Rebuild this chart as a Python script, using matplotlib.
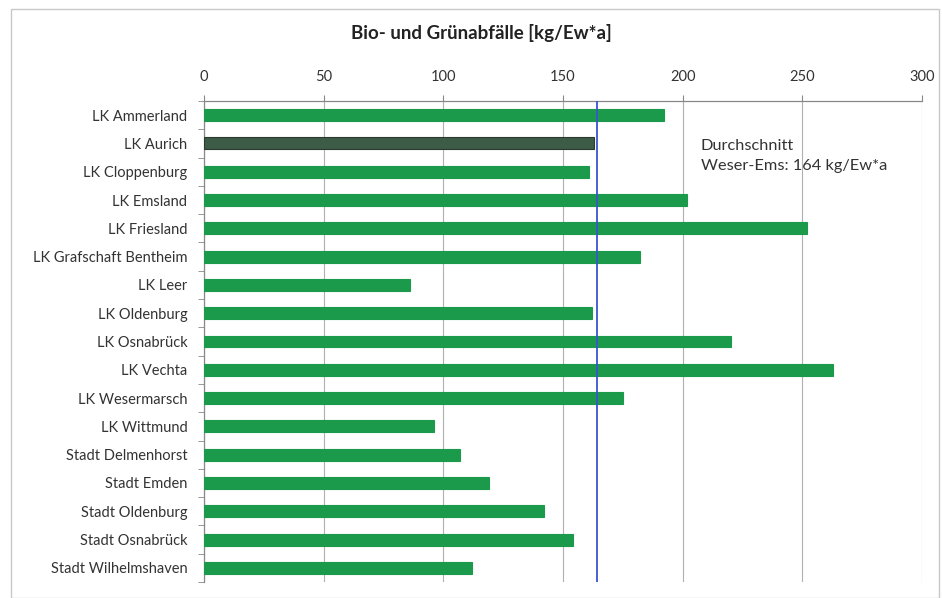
import matplotlib
matplotlib.use("Agg")
import matplotlib.pyplot as plt
from matplotlib.patches import Rectangle
import numpy as np

plt.rcParams['font.family'] = ['Lato', 'DejaVu Sans']

regions = [
    "LK Ammerland", "LK Aurich", "LK Cloppenburg", "LK Emsland", "LK Friesland",
    "LK Grafschaft Bentheim", "LK Leer", "LK Oldenburg", "LK Osnabrück", "LK Vechta",
    "LK Wesermarsch", "LK Wittmund", "Stadt Delmenhorst", "Stadt Emden",
    "Stadt Oldenburg", "Stadt Osnabrück", "Stadt Wilhelmshaven",
]
values = [192, 163, 161, 202, 252, 182, 86, 162, 220, 263, 175, 96, 107, 119, 142, 154, 112]
highlight = "LK Aurich"
average = 164
x_ticks = [0, 50, 100, 150, 200, 250, 300]

fig = plt.figure(figsize=(9.42, 5.98), dpi=100)
ax = fig.add_axes([204 / 942, 1 - 582 / 598, (922 - 204) / 942, (582 - 101) / 598])

# chart frame
fig.patches.append(Rectangle((11 / 942, 0.0), 928 / 942, 1 - 9 / 598,
                             transform=fig.transFigure, fill=False,
                             edgecolor="#c8c8c8", linewidth=1.0))

y = np.arange(len(regions))
colors = ["#3d5c47" if r == highlight else "#1b9a4b" for r in regions]
edges = ["#2a3a2e" if r == highlight else "#1b9a4b" for r in regions]
ax.barh(y, values, height=0.42, color=colors, edgecolor=edges, linewidth=0.8, zorder=3)

ax.axvline(average, color="#3a55d0", linewidth=1.3, zorder=4)
ax.text(207.5, 1.45, "Durchschnitt\nWeser-Ems: %d kg/Ew*a" % average,
        fontsize=11.8, color="#333333", va="center", ha="left", linespacing=1.5, zorder=5)

ax.set_xlim(0, 300)
ax.set_ylim(len(regions) - 0.5, -0.5)
ax.set_xticks(x_ticks)
ax.xaxis.tick_top()
ax.tick_params(axis="x", length=4, color="#888888", labelsize=10.5, labelcolor="#333333", pad=8)
ax.grid(axis="x", color="#b0b0b0", linewidth=0.8, zorder=0)

ax.set_yticks(y)
ax.set_yticklabels(regions, fontsize=10.5, color="#333333")
ax.set_yticks(np.arange(len(regions) + 1) - 0.5, minor=True)
ax.tick_params(axis="y", which="major", length=0, pad=12)
ax.tick_params(axis="y", which="minor", length=4, color="#888888")

for side in ("right", "bottom"):
    ax.spines[side].set_visible(False)
for side in ("left", "top"):
    ax.spines[side].set_color("#888888")
    ax.spines[side].set_linewidth(0.9)

fig.text(481 / 942, 1 - 33 / 598, "Bio- und Grünabfälle [kg/Ew*a]",
         fontsize=13.5, fontweight="bold", color="#222222", ha="center", va="center")

fig.savefig("out.png", dpi=100)
